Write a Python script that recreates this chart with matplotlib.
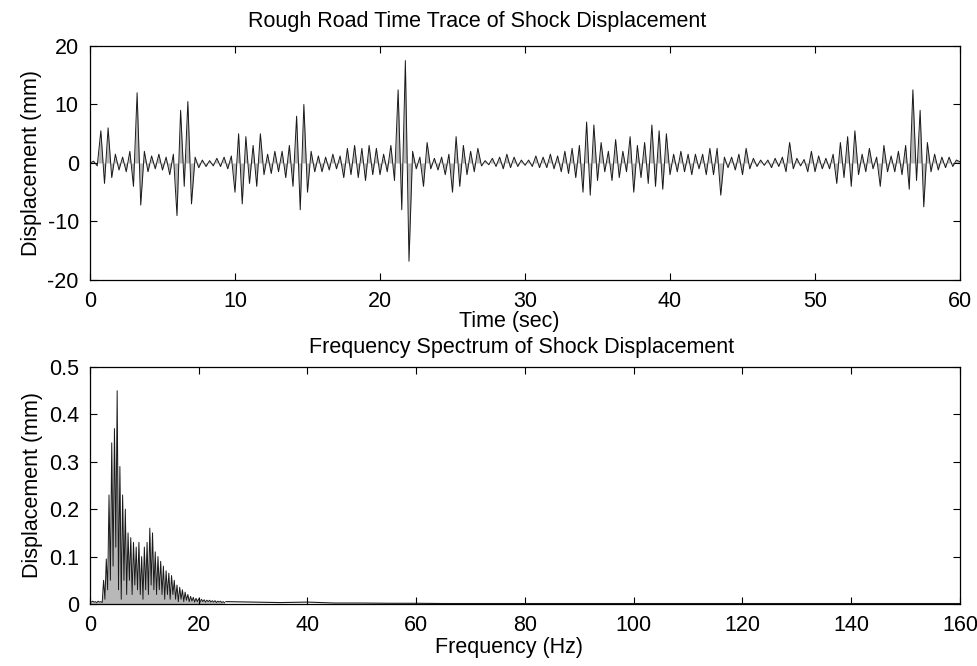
import numpy as np
import matplotlib
matplotlib.use('Agg')
import matplotlib.pyplot as plt

plt.rcParams['font.family'] = ['Liberation Sans', 'DejaVu Sans']
plt.rcParams['axes.unicode_minus'] = False

# time trace: displacement peaks (mm), one value every 0.25 s from 0 to 60 s
time_step = 0.25
disp_mm = [
    0.0, 0.3, -0.5, 5.5, -3.5, 6.0, -2.5, 1.5, -1.2, 1.0, -1.5, 2.0, -4.0, 12.0, -7.2, 2.0, -1.5, 1.2, -1.0, 1.5,
    -1.2, 1.0, -2.0, 1.5, -9.0, 9.0, -4.0, 10.5, -7.0, 1.0, -0.8, 0.5, -0.6, 0.4, -0.5, 0.8, -0.6, 1.0, -1.0, 1.2,
    -5.0, 5.0, -7.0, 4.5, -3.5, 3.0, -4.0, 5.0, -2.0, 1.5, -1.8, 2.0, -1.5, 2.0, -2.5, 3.0, -4.0, 8.0, -8.0, 10.0,
    -5.0, 2.0, -1.5, 1.2, -1.5, 1.0, -1.2, 1.5, -1.0, 1.2, -2.5, 2.5, -2.0, 3.0, -2.5, 2.5, -3.0, 3.0, -2.0, 2.5,
    -2.0, 1.5, -1.5, 3.0, -3.0, 12.5, -8.0, 17.5, -16.8, 2.0, -1.0, 1.0, -4.0, 3.5, -1.0, 0.8, -1.2, 1.0, -2.0, 1.5,
    -5.0, 4.5, -4.0, 3.0, -2.0, 2.0, -1.5, 2.5, -0.5, 0.4, -0.3, 0.8, -0.6, 1.0, -1.0, 1.5, -0.8, 1.0, -0.6, 0.5,
    -0.4, 0.5, -0.6, 1.2, -0.8, 1.0, -0.8, 1.5, -1.0, 1.2, -1.5, 2.0, -1.8, 2.5, -2.5, 3.0, -5.0, 7.0, -5.5, 6.5,
    -3.0, 3.5, -1.5, 2.0, -3.0, 4.0, -2.5, 2.0, -1.5, 4.5, -5.0, 3.0, -2.5, 3.5, -3.5, 6.5, -4.0, 5.5, -4.5, 5.0,
    -2.0, 1.5, -1.5, 2.0, -1.5, 1.5, -2.0, 1.5, -1.0, 1.5, -2.0, 2.5, -2.0, 2.5, -5.5, 1.0, -0.8, 1.0, -1.2, 1.5,
    -2.0, 2.5, -1.0, 0.8, -0.6, 0.5, -0.4, 0.5, -0.8, 0.8, -0.6, 1.0, -1.5, 3.5, -1.0, 0.8, -0.5, 0.6, -1.5, 2.0,
    -1.5, 1.2, -1.0, 0.8, -1.0, 1.5, -3.5, 3.5, -2.5, 4.5, -4.0, 5.5, -2.0, 1.5, -1.5, 2.5, -1.0, 1.0, -4.0, 3.0,
    -1.5, 1.2, -1.5, 2.0, -2.0, 3.0, -4.5, 12.5, -3.0, 9.0, -7.5, 3.5, -1.5, 1.5, -1.2, 1.0, -0.8, 1.0, -0.6, 0.5,
    0.2,
]

# spectrum: amplitude (mm) every 0.25 Hz from 0 to 24.75 Hz
freq_step = 0.25
spec_mm = [
    0.005, 0.004, 0.006, 0.004, 0.005, 0.003, 0.006, 0.004, 0.005, 0.003,
    0.05, 0.01, 0.095, 0.03, 0.23, 0.05, 0.34, 0.08, 0.37, 0.12,
    0.45, 0.03, 0.29, 0.01, 0.23, 0.05, 0.20, 0.02, 0.15, 0.05,
    0.14, 0.02, 0.13, 0.04, 0.12, 0.03, 0.13, 0.02, 0.10, 0.01,
    0.12, 0.03, 0.13, 0.02, 0.16, 0.04, 0.15, 0.03, 0.11, 0.02,
    0.10, 0.03, 0.09, 0.02, 0.08, 0.01, 0.07, 0.02, 0.065, 0.01,
    0.06, 0.02, 0.05, 0.01, 0.04, 0.005, 0.035, 0.01, 0.03, 0.005,
    0.025, 0.008, 0.02, 0.005, 0.016, 0.006, 0.014, 0.004, 0.012, 0.005,
    0.011, 0.004, 0.010, 0.005, 0.009, 0.004, 0.008, 0.005, 0.008, 0.004,
    0.007, 0.004, 0.007, 0.003, 0.006, 0.004, 0.006, 0.003, 0.005, 0.003,
]
# coarse tail of the spectrum, 25 Hz to 160 Hz every 5 Hz
tail_freq = [25, 30, 35, 40, 45, 50, 55, 60, 65, 70, 75, 80, 85, 90, 95, 100,
             105, 110, 115, 120, 125, 130, 135, 140, 145, 150, 155, 160]
tail_mm = [0.005, 0.004, 0.003, 0.004, 0.002, 0.002, 0.0015, 0.0015, 0.001, 0.001,
           0.001, 0.001, 0.001, 0.001, 0.001, 0.001, 0.001, 0.001, 0.001, 0.001,
           0.001, 0.001, 0.001, 0.001, 0.001, 0.001, 0.001, 0.001]

FS = 15.5


def style_axes(ax):
    # gnuplot look: ticks pointing in, on all four sides
    ax.tick_params(direction='in', length=5, width=0.8, top=True, right=True,
                   labelsize=FS, pad=8)
    for s in ax.spines.values():
        s.set_linewidth(0.9)


fig = plt.figure(figsize=(9.78, 6.66), dpi=100)

# 上图: 时域
ax1 = fig.add_axes([0.092, 0.5796, 0.8896, 0.3514])
t = np.arange(len(disp_mm)) * time_step
ax1.fill_between(t, disp_mm, 0, color='0.72', linewidth=0)
ax1.plot(t, disp_mm, color='0.1', linewidth=0.7)
ax1.set_xlim(0, 60)
ax1.set_ylim(-20, 20)
ax1.set_xticks(range(0, 61, 10))
ax1.set_yticks(range(-20, 21, 10))
style_axes(ax1)
ax1.set_ylabel('Displacement (mm)', fontsize=FS, labelpad=4)

fig.text(477 / 978, 1 - 21 / 666, 'Rough Road Time Trace of Shock Displacement',
         ha='center', va='center', fontsize=FS)
fig.text(509 / 978, 1 - 322 / 666, 'Time (sec)', ha='center', va='center', fontsize=FS)

# 下图: 频谱
ax2 = fig.add_axes([0.092, 0.0931, 0.8896, 0.3559])
f = np.arange(len(spec_mm)) * freq_step
ax2.fill_between(f, spec_mm, 0, color='0.72', linewidth=0)
ax2.plot(f, spec_mm, color='0.1', linewidth=0.7)
ax2.plot(tail_freq, tail_mm, color='0.1', linewidth=0.8)
ax2.set_xlim(0, 160)
ax2.set_ylim(0, 0.5)
ax2.set_xticks(range(0, 161, 20))
ax2.set_yticks([0, 0.1, 0.2, 0.3, 0.4, 0.5])
ax2.set_yticklabels(['0', '0.1', '0.2', '0.3', '0.4', '0.5'])
style_axes(ax2)
ax2.set_ylabel('Displacement (mm)', fontsize=FS, labelpad=4)

fig.text(522 / 978, 1 - 347 / 666, 'Frequency Spectrum of Shock Displacement',
         ha='center', va='center', fontsize=FS)
fig.text(509 / 978, 1 - 648 / 666, 'Frequency (Hz)', ha='center', va='center', fontsize=FS)

fig.savefig('out.png', dpi=100)
